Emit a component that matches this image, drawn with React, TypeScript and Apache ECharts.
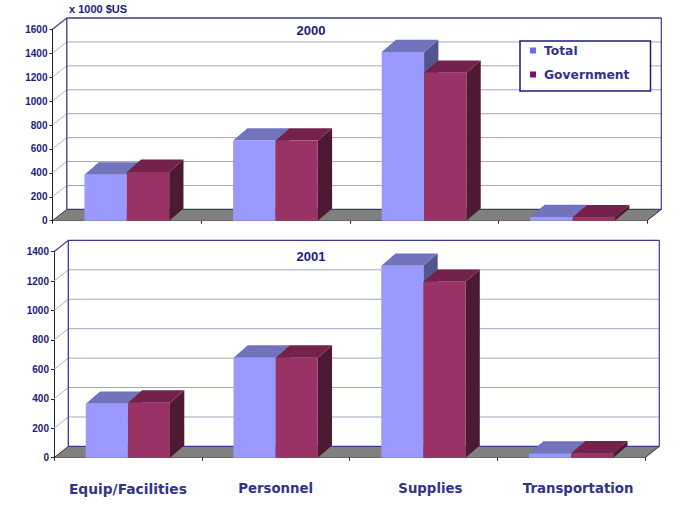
import React, { useEffect, useRef } from "react";
import * as echarts from "echarts";

const categories = ["Equip/Facilities", "Personnel", "Supplies", "Transportation"];
const total2000 = [385, 670, 1410, 30];
const gov2000 = [408, 670, 1236, 28];
const total2001 = [367, 680, 1305, 28];
const gov2001 = [374, 680, 1196, 30];
const ticks2000 = [0, 200, 400, 600, 800, 1000, 1200, 1400, 1600];
const ticks2001 = [0, 200, 400, 600, 800, 1000, 1200, 1400];
const seriesNames = ["Total", "Government"];

const NAVY = "#1c1c78";
const FRAME = "#3a3a8c";
const LABEL = "#333388";
const SANS = "'Liberation Sans', Arial, sans-serif";
const VERD = "'DejaVu Sans', Verdana, sans-serif";
const DX = 14.3;
const WALL_DY = 11.3;
const BAR_DY = 12.3;
const BAR_RATIO = 0.285;

const faces = [
  { front: "#9999ff", top: "#7273bd", side: "#53558f" },
  { front: "#993366", top: "#74224c", side: "#4d1a33" },
];

function wallSeries(gridIndex: number, ticks: number[]) {
  const top = ticks[ticks.length - 1];
  return {
    type: "custom",
    name: "wall" + gridIndex,
    xAxisIndex: gridIndex,
    yAxisIndex: gridIndex,
    z: 1,
    silent: true,
    data: ticks.map((v) => [0, v]),
    encode: { x: 0, y: 1 },
    renderItem: (params: any, api: any) => {
      const cs = params.coordSys;
      const v = api.value(1);
      const y = api.coord([0, v])[1];
      const xL = cs.x;
      const xR = cs.x + cs.width;
      const DY = WALL_DY;
      const children: any[] = [];
      const line = (x1: number, y1: number, x2: number, y2: number, stroke: string, w = 1) => ({
        type: "line",
        shape: { x1, y1, x2, y2 },
        style: { stroke, lineWidth: w, fill: "none" },
      });
      if (v === 0) {
        children.push({
          type: "polygon",
          shape: { points: [[xL, y], [xL + DX, y - DY], [xR + DX, y - DY], [xR, y]] },
          style: { fill: "#808080", stroke: "none" },
        });
        children.push(line(xL + DX, y - DY, xR + DX, y - DY, FRAME, 1.2));
        children.push(line(xR, y, xR + DX, y - DY, "#333333", 1));
        children.push(line(xL, y, xL + DX, y - DY, "#333333", 1));
      } else if (v === top) {
        const floorY = api.coord([0, 0])[1] - DY;
        children.push(line(xL + DX, y - DY, xL + DX, floorY, FRAME, 1.3));
        children.push(line(xR + DX, y - DY, xR + DX, floorY, FRAME, 1.2));
        children.push(line(xL + DX, y - DY, xR + DX, y - DY, FRAME, 1.3));
        children.push(line(xL, y, xL + DX, y - DY, FRAME, 1.2));
      } else {
        children.push(line(xL, y, xL + DX, y - DY, "#b4b4b4", 1));
        children.push(line(xL + DX, y - DY, xR + DX, y - DY, "#a6a6c2", 1));
      }
      return { type: "group", children };
    },
  };
}

function barSeries(gridIndex: number, idx: number, values: number[]) {
  const f = faces[idx];
  return {
    type: "custom",
    name: seriesNames[idx],
    xAxisIndex: gridIndex,
    yAxisIndex: gridIndex,
    z: 3 + idx,
    itemStyle: { color: f.front },
    data: values.map((v, i) => [i, v]),
    encode: { x: 0, y: 1 },
    renderItem: (_params: any, api: any) => {
      const p = api.coord([api.value(0), api.value(1)]);
      const base = api.coord([api.value(0), 0])[1];
      const w = api.size([1, 0])[0] * BAR_RATIO;
      const x0 = p[0] + (idx - 1) * w;
      const x1 = x0 + w;
      const y = p[1];
      const DY = BAR_DY;
      return {
        type: "group",
        children: [
          {
            type: "polygon",
            shape: { points: [[x1, y], [x1 + DX, y - DY], [x1 + DX, base - DY], [x1, base]] },
            style: { fill: f.side, stroke: "none" },
          },
          {
            type: "polygon",
            shape: { points: [[x0, y], [x0 + DX, y - DY], [x1 + DX, y - DY], [x1, y]] },
            style: { fill: f.top, stroke: "none" },
          },
          {
            type: "rect",
            shape: { x: x0, y, width: w, height: base - y },
            style: { fill: f.front, stroke: "none" },
          },
        ],
      };
    },
  };
}

function xAxis(gridIndex: number, showLabels: boolean) {
  const base = { fontFamily: VERD, fontWeight: "bold", fontSize: 13.3, color: LABEL };
  return {
    type: "category",
    gridIndex,
    data: categories,
    boundaryGap: true,
    axisLine: { show: true, lineStyle: { color: "#222222", width: 1 } },
    axisTick: { show: true, length: 3, lineStyle: { color: "#222222" } },
    axisLabel: {
      show: showLabels,
      interval: 0,
      margin: 24,
      formatter: (name: string, i: number) => (i === 0 ? `{e|${name}}` : i >= 2 ? `{s|${name}}` : `{n|${name}}`),
      rich: {
        n: base,
        e: { ...base, fontSize: 13.8 },
        s: { ...base, padding: [0, 0, 0, 14] },
      },
    },
    splitLine: { show: false },
  };
}

function yAxis(gridIndex: number, ticks: number[]) {
  return {
    type: "value",
    gridIndex,
    min: 0,
    max: ticks[ticks.length - 1],
    interval: 200,
    axisLine: { show: true, lineStyle: { color: "#222222", width: 1 } },
    axisTick: { show: true, length: 3, lineStyle: { color: "#222222" } },
    axisLabel: {
      margin: 5,
      fontFamily: SANS,
      fontWeight: "bold",
      fontSize: 10,
      color: NAVY,
      formatter: (v: number) => String(v),
    },
    splitLine: { show: false },
  };
}

export default function App() {
  const ref = useRef<HTMLDivElement>(null);
  useEffect(() => {
    document.body.style.margin = "0";
    const chart = echarts.init(ref.current!, undefined, { renderer: "svg" });
    chart.setOption({
      animation: false,
      backgroundColor: "#ffffff",
      title: [
        { text: "x 1000 $US", left: 69, top: 3, padding: 0, textStyle: { fontFamily: SANS, fontWeight: "bold", fontSize: 11, color: NAVY } },
        { text: "2000", left: 311, top: 24, padding: 0, textAlign: "center", textStyle: { fontFamily: SANS, fontWeight: "bold", fontSize: 13, color: NAVY } },
        { text: "2001", left: 311, top: 250, padding: 0, textAlign: "center", textStyle: { fontFamily: SANS, fontWeight: "bold", fontSize: 13, color: NAVY } },
      ],
      legend: {
        orient: "vertical",
        left: 520,
        top: 41,
        padding: [2, 21, 9, 10],
        itemGap: 9,
        itemWidth: 6,
        itemHeight: 6,
        icon: "rect",
        selectedMode: false,
        backgroundColor: "#ffffff",
        borderColor: "#1c1c78",
        borderWidth: 1.5,
        z: 10,
        textStyle: { fontFamily: VERD, fontWeight: "bold", fontSize: 12.3, color: LABEL, padding: [0, 0, 0, 3], lineHeight: 15 },
        data: [
          { name: "Total", itemStyle: { color: "#6a6af0" } },
          { name: "Government", itemStyle: { color: "#800f70" } },
        ],
      },
      grid: [
        { left: 52.5, top: 29.3, width: 594.5, height: 191.4 },
        { left: 54, top: 251.7, width: 591, height: 206 },
      ],
      xAxis: [xAxis(0, false), xAxis(1, true)],
      yAxis: [yAxis(0, ticks2000), yAxis(1, ticks2001)],
      series: [
        wallSeries(0, ticks2000),
        barSeries(0, 0, total2000),
        barSeries(0, 1, gov2000),
        wallSeries(1, ticks2001),
        barSeries(1, 0, total2001),
        barSeries(1, 1, gov2001),
      ],
    });
    return () => chart.dispose();
  }, []);
  return <div ref={ref} style={{ position: "absolute", left: 0, top: 0, width: 685, height: 513 }} />;
}
